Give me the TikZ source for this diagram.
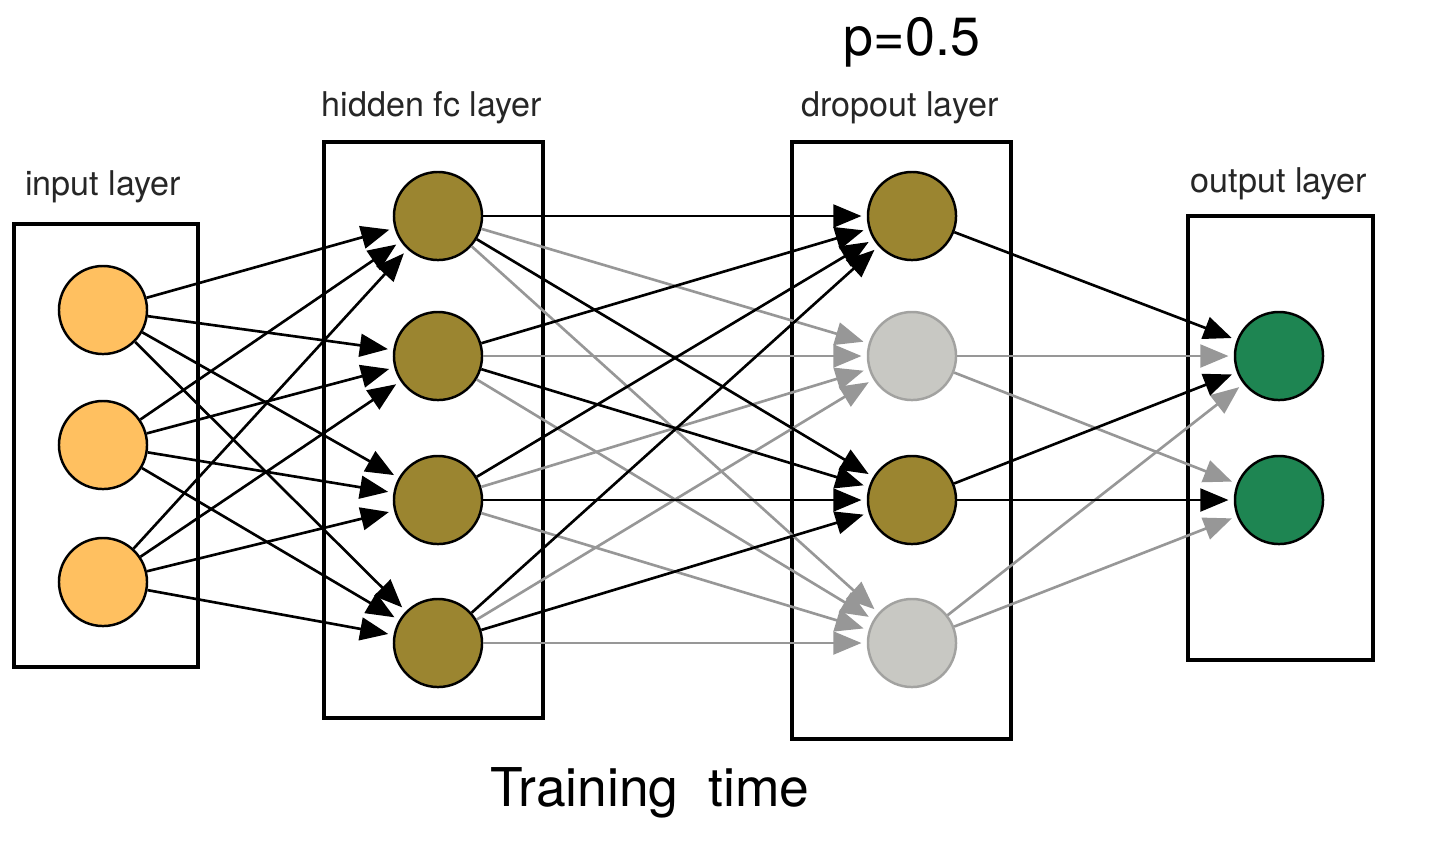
\documentclass[tikz,border=0pt]{standalone}
\usepackage{fontspec}
\setmainfont{TeX Gyre Heros}
\usetikzlibrary{arrows.meta}

\definecolor{inputcol}{HTML}{FFC060}
\definecolor{hiddencol}{HTML}{9B8530}
\definecolor{dropcol}{HTML}{C8C8C3}
\definecolor{dropline}{HTML}{A2A2A0}
\definecolor{outcol}{HTML}{1E8552}
\definecolor{greyedge}{HTML}{979797}

\begin{document}
\begin{tikzpicture}[x=0.01cm, y=-0.01cm,
        neuron/.style={circle, draw, line width=0.7pt, minimum size=0.88cm, inner sep=0pt},
        layerbox/.style={draw, line width=0.9pt},
        layerlabel/.style={font=\fontsize{9.7}{12}\selectfont, text=black!85},
        conn/.style={-{Triangle[length=8pt,width=6.5pt]}, line width=0.75pt, shorten >=1.5pt},
        dropconn/.style={conn, draw=greyedge}]
    \useasboundingbox (0,0) rectangle (1443,844);

    % layer boxes
    \draw[layerbox] (14,224) rectangle (198,667);
    \draw[layerbox] (324,142) rectangle (543,718);
    \draw[layerbox] (792,142) rectangle (1011,739);
    \draw[layerbox] (1188,216) rectangle (1373,660);

    % neurons
    \node[neuron, fill=inputcol] (i1) at (103,310) {};
    \node[neuron, fill=inputcol] (i2) at (103,445) {};
    \node[neuron, fill=inputcol] (i3) at (103,582) {};

    \node[neuron, fill=hiddencol] (h1) at (438,216) {};
    \node[neuron, fill=hiddencol] (h2) at (438,356) {};
    \node[neuron, fill=hiddencol] (h3) at (438,500) {};
    \node[neuron, fill=hiddencol] (h4) at (438,643) {};

    \node[neuron, fill=hiddencol] (d1) at (912,216) {};
    \node[neuron, fill=dropcol, draw=dropline] (d2) at (912,356) {};
    \node[neuron, fill=hiddencol] (d3) at (912,500) {};
    \node[neuron, fill=dropcol, draw=dropline] (d4) at (912,643) {};

    \node[neuron, fill=outcol] (o1) at (1279,356) {};
    \node[neuron, fill=outcol] (o2) at (1279,500) {};

    % labels
    \node[layerlabel] (inlabel) at (103,187) {input layer};
    \node[layerlabel] (hidlabel) at (432,108) {hidden fc layer};
    \node[layerlabel] (droplabel) at (900,108) {dropout layer};
    \node[layerlabel] (outlabel) at (1279,184) {output layer};
    \node[font=\fontsize{15.3}{18}\selectfont] (plabel) at (912,42) {p=0.5};
    \node[font=\fontsize{15.2}{18}\selectfont] (title) at (650,793) {Training\ \ time};

    % connections
    \foreach \a in {1,...,4}
        \foreach \b in {2,4}
            \draw[dropconn] (h\a) -- (d\b);
    \foreach \a in {2,4}
        \foreach \b in {1,2}
            \draw[dropconn] (d\a) -- (o\b);

    \foreach \a in {1,2,3}
        \foreach \b in {1,...,4}
            \draw[conn] (i\a) -- (h\b);
    \foreach \a in {1,...,4}
        \foreach \b in {1,3}
            \draw[conn] (h\a) -- (d\b);
    \draw[conn] (d1) -- (o1);
    \draw[conn] (d3) -- (o1);
    \draw[conn] (d3) -- (o2);
\end{tikzpicture}
\end{document}
